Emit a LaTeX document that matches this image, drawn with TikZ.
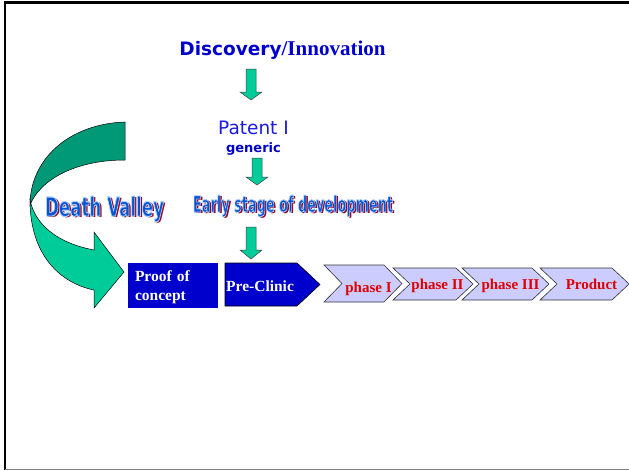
\documentclass[tikz,border=0pt]{standalone}
\usepackage{fontspec}
\setmainfont{Liberation Serif}
\newfontfamily\verdana{DejaVu Sans}

\definecolor{slideblue}{HTML}{0000CC}
\definecolor{patentblue}{HTML}{1A1AE0}
\definecolor{arrowgreen}{HTML}{00CC99}
\definecolor{darkgreen}{HTML}{009977}
\definecolor{phasefill}{HTML}{CCCCFF}
\definecolor{phasered}{HTML}{DD0000}
\definecolor{wordblue}{HTML}{0A52D0}
\definecolor{wordshadow}{HTML}{A00018}

\tikzset{
  wordtext/.style={inner sep=0pt, text=wordblue},
  wordshadowtext/.style={inner sep=0pt, text=wordshadow},
  garrow/.style={fill=arrowgreen, draw=black!75, line width=0.5pt},
  ribbon/.style={draw=black, line width=0.5pt},
  phasebox/.style={draw=black!80, line width=0.6pt, fill=phasefill},
  phasetext/.style={inner sep=0pt, anchor=base, text=phasered, font=\bfseries\fontsize{15}{18}\selectfont},
  stagebox/.style={fill=slideblue, text=white, inner sep=0pt,
    font=\bfseries\fontsize{15.5}{19}\selectfont}
}

% light rim round the letters (fill and stroke)
\newcommand{\rimmed}[1]{\special{pdf:literal direct 0.66 0.82 1 RG 0.4 w 1 j 2 Tr}#1\special{pdf:literal direct 0 Tr 0.4 w}}
\newcommand{\bigword}[3]{\resizebox{#1}{#2}{\verdana\bfseries #3}}
% word art: name, position, width, height, text
\newcommand{\wordart}[5]{%
  \node[wordshadowtext] (#1-shadow) at ([shift={(1.8,1.8)}]#2) {\bigword{#3}{#4}{#5}};
  \node[wordtext] (#1) at (#2) {\rimmed{\bigword{#3}{#4}{#5}}};
}
% green block arrow pointing down: x, top, head, tip
\newcommand{\downblock}[4]{%
  \draw[garrow] (#1-5,#2) -- (#1+5,#2) -- (#1+5,#3) -- (#1+11,#3) -- (#1,#4)
    -- (#1-11,#3) -- (#1-5,#3) -- cycle;
}
% chevron: name, left, body right, top, bottom, depth
\newcommand{\chevron}[6]{%
  \draw[phasebox] (#2,#4) -- (#3,#4) -- (#3+#6,{(#4+#5)/2}) -- (#3,#5) -- (#2,#5)
    -- (#2+#6,{(#4+#5)/2}) -- cycle;
  \coordinate (#1) at ({(#2+#3+#6)/2},{(#4+#5)/2});
}

\begin{document}
\begin{tikzpicture}[x=1pt, y=-1pt]
  \useasboundingbox (0,0) rectangle (629,471);
  % frame
  \draw[line width=2.2pt] (629,2.5) -- (5,2.5) -- (5,470);
  \draw[gray, line width=1.2pt] (5,469.5) -- (629,469.5);

  % top of the chain
  \node[anchor=base, text=slideblue, inner sep=0pt] (disc) at (282.5,55.5)
    {{\verdana\bfseries\fontsize{18.5}{20}\selectfont Discovery}{\bfseries\fontsize{21}{24}\selectfont /Innovation}};
  \node[anchor=base, text=patentblue, inner sep=0pt, font=\verdana\fontsize{18.5}{20}\selectfont] (patent) at (253.5,134.5) {Patent I};
  \node[anchor=base, text=slideblue, inner sep=0pt, font=\verdana\bfseries\fontsize{13}{14}\selectfont] (generic) at (253.5,152.5) {generic};

  \downblock{251}{69}{92}{100}
  \downblock{257}{158}{177}{185}
  \downblock{251}{227}{250}{259}

  % curved arrow
  \draw[ribbon, fill=darkgreen] (125,122) .. controls (68,124) and (30,160) .. (30,205)
    .. controls (40,180) and (75,160) .. (125,160) -- cycle;
  \draw[ribbon, fill=arrowgreen] (30,200) .. controls (30,255) and (60,283) .. (94,290)
    -- (94,308) -- (124,272) -- (94,232) -- (94,250)
    .. controls (62,244) and (36,228) .. (30,200) -- cycle;

  \wordart{death}{104.5,209}{119pt}{20pt}{Death Valley}
  \wordart{early}{293,206}{200pt}{17pt}{Early stage of development}

  % development stages
  \node[stagebox, minimum width=90pt, minimum height=45pt, text width=76pt, inner xsep=7pt, align=left] (proof) at (173,285.5) {\rule{0pt}{14.6pt}Proof of\\concept};
  \draw[fill=slideblue, draw=black, line width=0.6pt] (225,263) -- (297,263) -- (320,284.5) -- (297,306) -- (225,306) -- cycle;
  \node[stagebox, anchor=base west] (preclinic) at (226,291.7) {Pre-Clinic};

  \chevron{phaseI}{324}{384}{265}{302}{18}
  \chevron{phaseII}{393}{456}{268}{300}{17}
  \chevron{phaseIII}{462}{532}{268}{300}{17}
  \chevron{product}{540}{612}{268}{300}{17}
  \node[phasetext] (phaseI-label) at (368.5,292.7) {phase I};
  \node[phasetext] (phaseII-label) at (437.5,289) {phase II};
  \node[phasetext] (phaseIII-label) at (510.5,289) {phase III};
  \node[phasetext] (product-label) at (591.5,289) {Product};
\end{tikzpicture}
\end{document}
